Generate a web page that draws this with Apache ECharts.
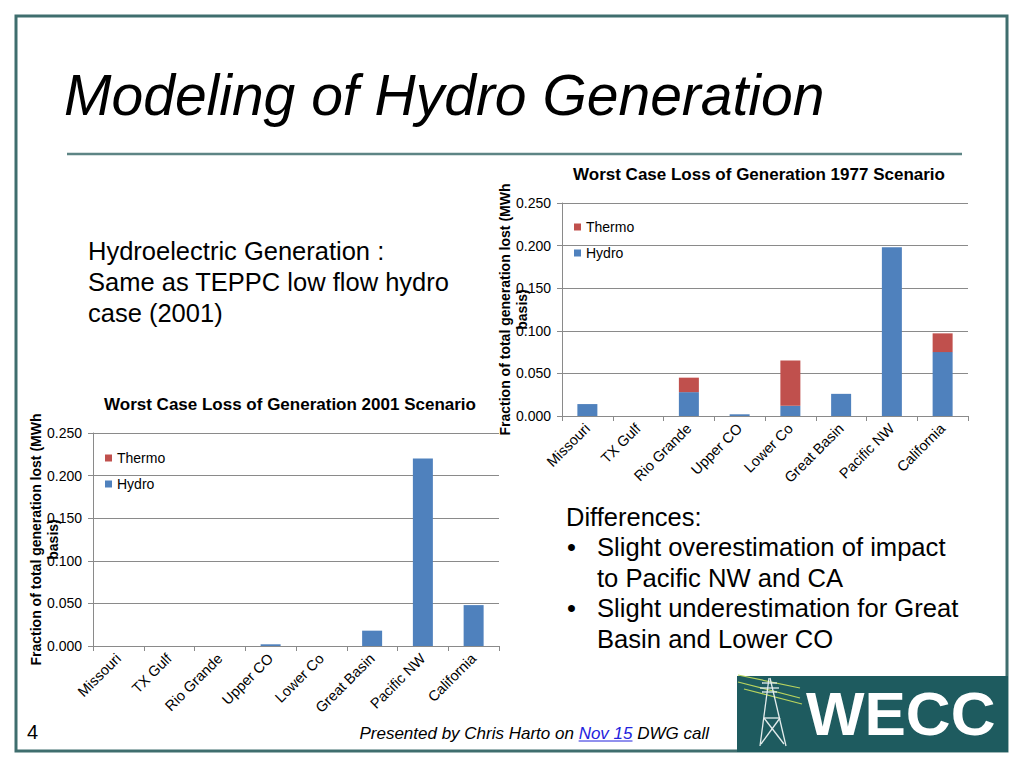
<!DOCTYPE html>
<html>
<head>
<meta charset="utf-8">
<script src="https://cdn.jsdelivr.net/npm/echarts@6/dist/echarts.min.js"></script>
<style>
html,body{margin:0;padding:0;background:#fff;}
#c{width:1024px;height:768px;}
</style>
</head>
<body>
<div id="c"></div>
<script>
// ---------- data ----------
const categories = ['Missouri', 'TX Gulf', 'Rio Grande', 'Upper CO', 'Lower Co', 'Great Basin', 'Pacific NW', 'California'];
const hydro1977  = [0.014, 0, 0.028, 0.002, 0.012, 0.026, 0.198, 0.075];
const thermo1977 = [0, 0, 0.017, 0, 0.053, 0, 0, 0.022];
const hydro2001  = [0, 0, 0, 0.002, 0, 0.018, 0.220, 0.048];
const thermo2001 = [0, 0, 0, 0, 0, 0, 0, 0];
const seriesNames = ['Hydro', 'Thermo'];
const legendOrder = ['Thermo', 'Hydro'];
const chartTitles = ['Worst Case Loss of Generation 1977 Scenario', 'Worst Case Loss of Generation 2001 Scenario'];
const yAxisName = 'Fraction of total generation lost (MWh\nbasis)';
const yMin = 0, yMax = 0.25, yStep = 0.05;
const slideTitle = 'Modeling of Hydro Generation';
const introLines = ['Hydroelectric Generation :', 'Same as TEPPC low flow hydro', 'case (2001)'];
const diffHeading = 'Differences:';
const diffBullets = [
  ['Slight overestimation of impact', 'to Pacific NW and CA'],
  ['Slight underestimation for Great', 'Basin and Lower CO']
];
const footerParts = ['Presented by Chris Harto on ', 'Nov 15', ' DWG call'];
const pageNumber = '4';
const logoText = 'WECC';

// ---------- style ----------
const FONT = '"Liberation Sans", Arial, Helvetica, sans-serif';
const BLUE = '#4F81BD', RED = '#C0504D', GRID = '#8a8a8a', TEAL = '#3f6e6e';

function measure(text, font) {
  const c = document.createElement('canvas').getContext('2d');
  c.font = font;
  return c.measureText(text).width;
}

function txt(text, x, y, o) {
  o = o || {};
  const style = {
    text: text,
    fill: o.fill || '#000',
    fontSize: o.size || 25,
    fontFamily: FONT,
    fontStyle: o.italic ? 'italic' : 'normal',
    fontWeight: o.bold ? 'bold' : 'normal',
    align: o.align || 'left', textAlign: o.align || 'left',
    verticalAlign: 'middle', textVerticalAlign: 'middle'
  };
  return { type: 'text', x: x, y: y, z: 10, style: style, silent: true };
}
function line(x1, y1, x2, y2, color, w) {
  return { type: 'line', z: 5, silent: true, shape: { x1, y1, x2, y2 }, style: { stroke: color, lineWidth: w } };
}

const grids = [
  { left: 562, top: 203, width: 406, height: 213 },
  { left: 93, top: 433, width: 406, height: 213 }
];

function xAxisFor(i) {
  return {
    type: 'category', gridIndex: i, data: categories,
    axisLine: { show: true, lineStyle: { color: GRID, width: 1 } },
    axisTick: { show: true, length: 5, alignWithLabel: false, interval: 0, lineStyle: { color: GRID } },
    axisLabel: { rotate: 45, interval: 0, margin: 10, fontSize: 14.5, color: '#000', fontFamily: FONT },
    splitLine: { show: false }
  };
}
function yAxisFor(i) {
  return {
    type: 'value', gridIndex: i, min: yMin, max: yMax, interval: yStep,
    name: yAxisName, nameLocation: 'middle', nameRotate: 90, nameGap: 32, nameMoveOverlap: false,
    nameTextStyle: { fontSize: 14, fontWeight: 'bold', color: '#000', fontFamily: FONT, lineHeight: 17 },
    axisLine: { show: true, lineStyle: { color: GRID, width: 1 } },
    axisTick: { show: true, length: 5, lineStyle: { color: GRID } },
    axisLabel: { margin: 11, fontSize: 14, color: '#000', fontFamily: FONT, formatter: v => v.toFixed(3) },
    splitLine: { show: true, lineStyle: { color: GRID, width: 1 } }
  };
}
function legendFor(left, top) {
  return {
    data: legendOrder, orient: 'vertical', left: left, top: top, padding: 0,
    itemWidth: 7, itemHeight: 7, itemGap: 10, icon: 'rect', selectedMode: false,
    textStyle: { fontSize: 14, color: '#000', fontFamily: FONT, lineHeight: 16 }
  };
}
function bars(i, hydro, thermo) {
  const common = { type: 'bar', xAxisIndex: i, yAxisIndex: i, stack: 's' + i, barWidth: 20, silent: true };
  return [
    Object.assign({ name: seriesNames[0], data: hydro, itemStyle: { color: BLUE } }, common),
    Object.assign({ name: seriesNames[1], data: thermo, itemStyle: { color: RED } }, common)
  ];
}

// ---------- slide decorations ----------
const graphics = [];
graphics.push({ type: 'rect', z: 1, silent: true, shape: { x: 16, y: 16, width: 991, height: 735 },
  style: { fill: 'none', stroke: TEAL, lineWidth: 3 } });
graphics.push(txt(slideTitle, 64, 95, { size: 57, italic: true }));
graphics.push(line(67, 154, 962, 154, '#5d8585', 2.5));
introLines.forEach((t, k) => graphics.push(txt(t, 88, 251 + k * 31, { size: 25.5 })));
graphics.push(txt(diffHeading, 566, 517, { size: 25.5 }));
let ly = 547;
diffBullets.forEach(b => {
  graphics.push(txt('\u2022', 567, ly, { size: 25.5 }));
  b.forEach(t => { graphics.push(txt(t, 597, ly, { size: 25.6 })); ly += 30.5; });
});
graphics.push(txt(pageNumber, 27, 732, { size: 20 }));

// footer (right-aligned at x=709)
const fFont = 'italic 17px ' + FONT;
const w0 = measure(footerParts[0], fFont), w1 = measure(footerParts[1], fFont), w2 = measure(footerParts[2], fFont);
let fx = 709 - (w0 + w1 + w2);
graphics.push(txt(footerParts[0], fx, 733, { size: 17, italic: true }));
graphics.push(txt(footerParts[1], fx + w0, 733, { size: 17, italic: true, fill: '#2222dd' }));
graphics.push(line(fx + w0, 741, fx + w0 + w1, 741, '#2222dd', 1));
graphics.push(txt(footerParts[2], fx + w0 + w1, 733, { size: 17, italic: true }));

// logo
graphics.push({ type: 'rect', z: 6, silent: true, shape: { x: 737, y: 676, width: 271, height: 76 },
  style: { fill: '#1e5b5f' } });
const pl = '#b9d45e', tw = '#e4ecec';
[[738, 675, 800, 688], [738, 682, 800, 698], [744, 689, 802, 704]].forEach(s =>
  graphics.push(Object.assign(line(s[0], s[1], s[2], s[3], pl, 1.2), { z: 7 })));
[
  [769, 678, 760, 746], [770, 678, 786, 746],
  [762, 683, 777, 683], [760, 688, 779, 688], [762, 692, 777, 692],
  [764, 718, 780, 718], [764, 718, 784, 744], [780, 718, 761, 744]
].forEach(s => graphics.push(Object.assign(line(s[0], s[1], s[2], s[3], tw, 1.3), { z: 8 })));
graphics.push(Object.assign(txt(logoText, 806, 713, { size: 62, bold: true, fill: '#ffffff' }), { z: 9 }));

// ---------- chart ----------
const chart = echarts.init(document.getElementById('c'), null, { renderer: 'svg', width: 1024, height: 768 });
chart.setOption({
  animation: false,
  backgroundColor: '#ffffff',
  title: [
    { text: chartTitles[0], left: 759, top: 166, textAlign: 'center', padding: 0,
      textStyle: { fontSize: 17, fontWeight: 'bold', color: '#000', fontFamily: FONT } },
    { text: chartTitles[1], left: 290, top: 396, textAlign: 'center', padding: 0,
      textStyle: { fontSize: 17, fontWeight: 'bold', color: '#000', fontFamily: FONT } }
  ],
  legend: [legendFor(574, 219), legendFor(105, 450)],
  grid: grids.map(g => Object.assign({ containLabel: false, outerBoundsMode: 'none' }, g)),
  xAxis: [xAxisFor(0), xAxisFor(1)],
  yAxis: [yAxisFor(0), yAxisFor(1)],
  series: bars(0, hydro1977, thermo1977).concat(bars(1, hydro2001, thermo2001)),
  graphic: graphics
});
</script>
</body>
</html>
